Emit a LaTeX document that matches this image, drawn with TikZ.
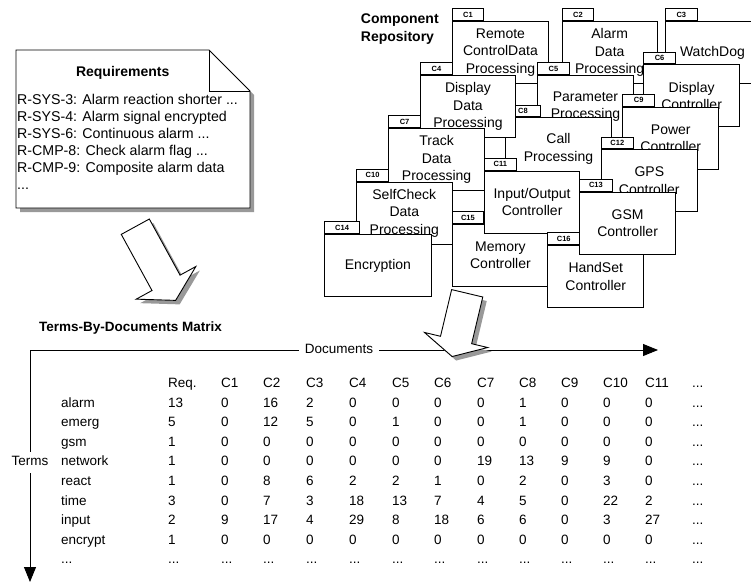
\documentclass[tikz,border=0pt]{standalone}
\usepackage{fontspec}
\setmainfont{Liberation Sans}
\usetikzlibrary{arrows.meta}

\newcommand{\dd}{...}
% block arrow: tail centre, angle, shaft length, full length, head half width
\newcommand{\blkarrow}[5]{%
  \begin{scope}[shift={(#1)}, xshift=4pt, yshift=-4pt, rotate=#2]
    \fill[black!40] (0,-16) -- (#3,-16) -- (#3,-#5) -- (#4,0) -- (#3,#5) -- (#3,16) -- (0,16) -- cycle;
  \end{scope}
  \begin{scope}[shift={(#1)}, rotate=#2]
    \draw[fill=white, line width=0.9pt, line join=miter] (0,-16) -- (#3,-16) -- (#3,-#5) -- (#4,0) -- (#3,#5) -- (#3,16) -- (0,16) -- cycle;
  \end{scope}}

\begin{document}
\begin{tikzpicture}[x=1pt, y=-1pt,
    compbox/.style={draw, fill=white, line width=0.9pt, anchor=north west, inner sep=0pt,
      minimum height=62pt, align=center, font=\fontsize{14}{17.5}\selectfont},
    tabbox/.style={draw, fill=white, line width=0.9pt, anchor=south west, inner sep=0pt,
      minimum height=11.7pt, font=\bfseries\fontsize{7.5}{8}\selectfont},
    reqline/.style={anchor=west, inner sep=0pt, text height=10pt, text depth=3pt,
      font=\fontsize{14.2}{17}\selectfont},
    celltext/.style={anchor=west, inner sep=0pt, text height=10pt, text depth=3pt,
      font=\fontsize{13.5}{16}\selectfont},
    boldhead/.style={anchor=west, inner sep=0pt, text height=10pt, text depth=3pt,
      font=\bfseries\fontsize{14}{17}\selectfont}]
  \useasboundingbox (0,0) rectangle (751,583);
  \fill[white] (0,0) rectangle (751,583);

  % requirements note
  \fill[black!40] (20,54) -- (213,54) -- (254,95) -- (254,212) -- (20,212) -- cycle;
  \draw[fill=white, line width=0.9pt] (16,50) -- (209,50) -- (250,91) -- (250,208) -- (16,208) -- cycle;
  \draw[line width=0.9pt] (209,50) -- (209,91) -- (250,91);
  \node[boldhead, anchor=center] (reqtitle) at (122.7,73) {Requirements};
  \node[reqline] (req1) at (17,101) {R-SYS-3: Alarm reaction shorter ...};
  \node[reqline] (req2) at (17,118) {R-SYS-4: Alarm signal encrypted};
  \node[reqline] (req3) at (17,135) {R-SYS-6: Continuous alarm ...};
  \node[reqline] (req4) at (17,152) {R-CMP-8: Check alarm flag ...};
  \node[reqline] (req5) at (17,169) {R-CMP-9: Composite alarm data};
  \node[reqline] (req6) at (17,186) {...};

  % component repository
  \node[boldhead] (repo1) at (360.7,20) {Component};
  \node[boldhead] (repo2) at (360.7,38) {Repository};
  \foreach \lab/\cx/\cy/\cw/\tw/\txt in {
      C1/451.7/21/96.6/31.7/{Remote\\ControlData\\Processing},
      C2/561.7/21/95/31.7/{Alarm\\Data\\Processing},
      C3/665/21/94/31.7/{WatchDog},
      C5/536.7/75/96.6/32.6/{Parameter\\Processing},
      C6/643.3/64.3/95.7/31.7/{Display\\Controller},
      C8/505/117.3/106/35/{Call\\Processing},
      C4/420/75/95/32/{Display\\Data\\Processing},
      C7/388.3/128/95.7/31.7/{Track\\Data\\Processing},
      C9/622.3/106.7/96/32/{Power\\Controller},
      C10/356/181.7/95.7/32.3/{SelfCheck\\Data\\Processing},
      C12/601/149.3/95.7/31.7/{GPS\\Controller},
      C14/324/234/107/35.3/{Encryption},
      C15/451.7/224/96.6/31.6/{Memory\\Controller},
      C11/484/170.7/95.3/31.7/{Input/Output\\Controller},
      C16/547.3/245/96/32/{HandSet\\Controller},
      C13/579.3/191.7/95.7/32.4/{GSM\\Controller}}
  {
    \node[compbox, minimum width=\cw pt] (\lab) at (\cx,\cy) {\txt};
    \node[tabbox, minimum width=\tw pt] (tab\lab) at (\lab.north west) {\lab};
  }

  % terms-by-documents matrix
  \node[boldhead, font=\bfseries\fontsize{13.5}{16}\selectfont] (mattitle) at (39,328) {Terms-By-Documents Matrix};
  \coordinate (orig) at (30,350);
  \coordinate (docend) at (658,350);
  \coordinate (termend) at (30,582);
  \node[celltext, anchor=center, inner xsep=6pt, inner ysep=3pt] (docs) at (339,350) {Documents};
  \node[celltext, anchor=center, inner sep=4pt] (terms) at (30,462.4) {Terms};
  \draw[line width=0.9pt] (orig) -- (docs.west);
  \draw[line width=0.9pt, -{Triangle[length=15pt,width=12pt]}] (docs.east) -- (docend);
  \draw[line width=0.9pt] (orig) -- (terms.north);
  \draw[line width=0.9pt, -{Triangle[length=15pt,width=12pt]}] (terms.south) -- (termend);

  \def\colx{{168,221,263,306,349,392,434,477,519,561,603,645,692}}
  \foreach \h [count=\c] in {Req.,C1,C2,C3,C4,C5,C6,C7,C8,C9,C10,C11,\dd}
  {
    \pgfmathsetmacro\xx{\colx[\c-1]}
    \node[celltext] (h-\c) at (\xx,384) {\h};
  }
  \foreach \term/\vals [count=\r] in {
      alarm/{13,0,16,2,0,0,0,0,1,0,0,0,\dd},
      emerg/{5,0,12,5,0,1,0,0,1,0,0,0,\dd},
      gsm/{1,0,0,0,0,0,0,0,0,0,0,0,\dd},
      network/{1,0,0,0,0,0,0,19,13,9,9,0,\dd},
      react/{1,0,8,6,2,2,1,0,2,0,3,0,\dd},
      time/{3,0,7,3,18,13,7,4,5,0,22,2,\dd},
      input/{2,9,17,4,29,8,18,6,6,0,3,27,\dd},
      encrypt/{1,0,0,0,0,0,0,0,0,0,0,0,\dd},
      \dd/{\dd,\dd,\dd,\dd,\dd,\dd,\dd,\dd,\dd,\dd,\dd,\dd,\dd}}
  {
    \pgfmathsetmacro\yy{384+19.6*\r}
    \node[celltext] (t-\r) at (61,\yy) {\term};
    \foreach \v [count=\c] in \vals
    {
      \pgfmathsetmacro\xx{\colx[\c-1]}
      \node[celltext] (m-\r-\c) at (\xx,\yy) {\v};
    }
  }

  % block arrows
  \blkarrow{135.3,226.7}{-61.3}{64}{84}{34}
  \blkarrow{467.2,293.3}{-103.4}{48}{65}{32.5}
\end{tikzpicture}
\end{document}
